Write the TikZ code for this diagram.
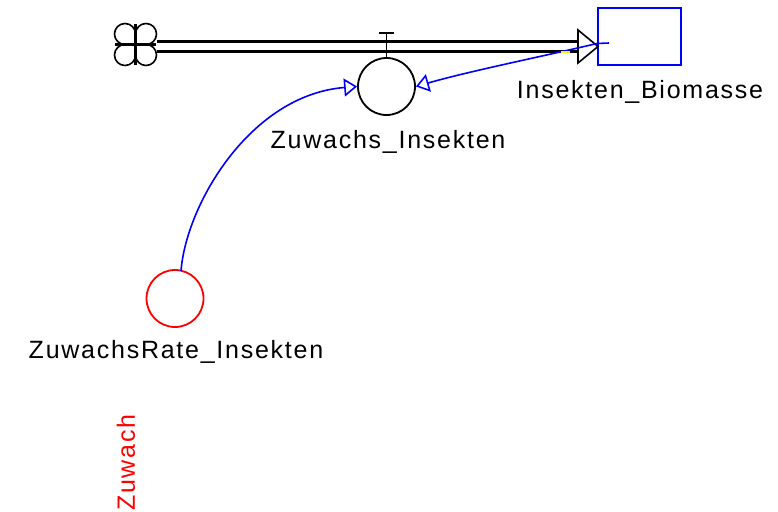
\documentclass[tikz,border=0pt]{standalone}
\usepackage{fontspec}
\setmainfont{Liberation Sans}[LetterSpace=7]
\usetikzlibrary{arrows.meta}
\begin{document}
\begin{tikzpicture}[x=1pt,y=-1pt,
  lbl/.style={font=\fontsize{25}{27}\selectfont, inner sep=0pt},
  conn/.style={draw=blue, line width=1.6pt, -{Triangle[open,length=13pt,width=18pt,line width=1.6pt]}},
  pipeline/.style={line width=2.2pt, black},
  auxc/.style={circle, draw, line width=1.8pt, minimum size=57pt, inner sep=0pt}]
\useasboundingbox (0,0) rectangle (778,511);
% cloud
\begin{scope}[line width=1.6pt]
\draw (135.5,34) arc[start angle=0, end angle=-270, radius=10.5];
\draw (146,44.5) arc[start angle=90, end angle=-180, radius=10.5];
\draw (135.5,55) arc[start angle=180, end angle=-90, radius=10.5];
\draw (125,44.5) arc[start angle=270, end angle=0, radius=10.5];
\end{scope}
\draw[line width=2.6pt] (115,44.5) -- (156,44.5);
\draw[line width=2.6pt] (135.5,24) -- (135.5,65);
\coordinate (cloud) at (157,46.5);
% stock
\node[draw=blue, line width=1.8pt, minimum width=83pt, minimum height=57pt, inner sep=0pt] (stock) at (639.5,36.5) {};
\node[lbl] (stocklbl) at (640,92) {Insekten\_Biomasse};
% pipe
\coordinate (pipeend) at (578,46.5);
\draw[pipeline] ([yshift=-5pt]cloud) -- ([yshift=-5pt]pipeend);
\draw[pipeline] ([yshift=5pt]cloud) -- ([yshift=5pt]pipeend);
% flow arrow head
\draw[fill=white, line width=1.6pt] (578,30) -- (598,46.5) -- (578,63) -- cycle;
% valve
\node[auxc] (flow) at (386.5,86.5) {};
\coordinate (valvetop) at (386.5,33);
\draw[line width=1.6pt] (valvetop) -- (flow.north);
\draw[line width=1.8pt] (379,33) -- (394,33);
\node[lbl] (flowlbl) at (388,142) {Zuwachs\_Insekten};
% rate
\node[auxc, draw=red] (rate) at (175,298.5) {};
\node[lbl] (ratelbl) at (176,352) {ZuwachsRate\_Insekten};
% connectors
\coordinate (cstart) at (181,271);
\draw[conn] (cstart) .. controls (186,205) and (250,95) .. (flow.west);
\coordinate (sstart) at (609,43);
\draw[blue, line width=1.6pt] (sstart) -- (597,43.5);
\draw[conn] (597,43.5) .. controls (540,57) and (470,71) .. (flow.east);
\draw[yellow, line width=2.2pt] (561,52) -- (570,52);
% rotated label
\node[lbl, text=red, rotate=90, anchor=west] (rot) at (126,511) {Zuwach};
\end{tikzpicture}
\end{document}
